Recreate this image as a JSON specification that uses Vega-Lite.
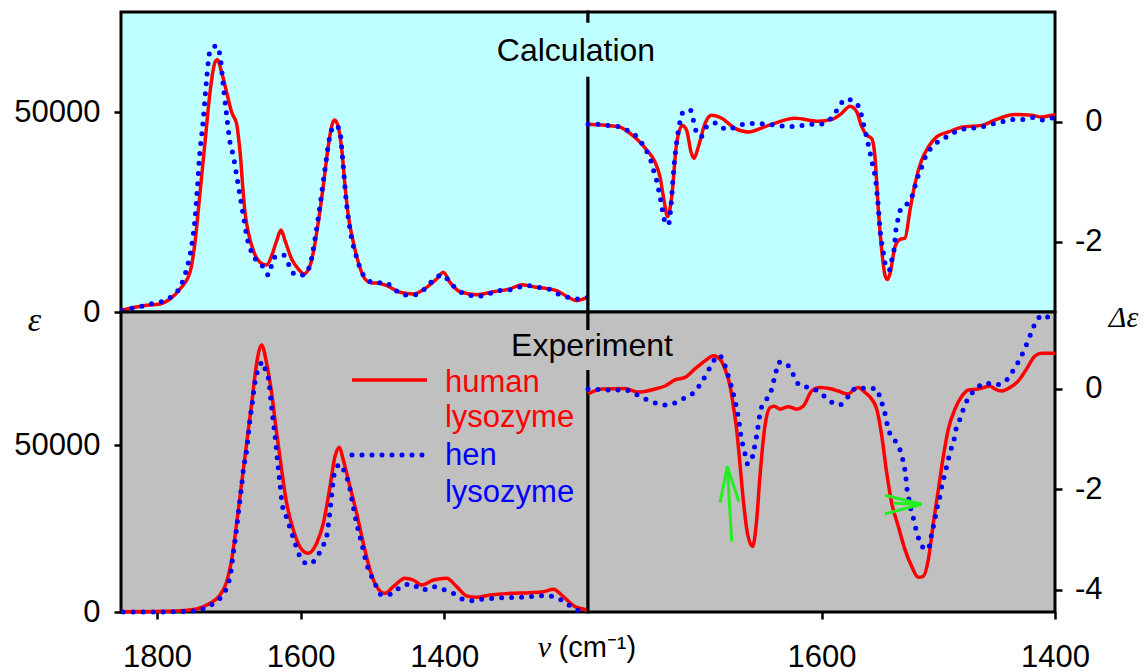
{
  "$schema": "https://vega.github.io/schema/vega-lite/v6.json",
  "width": 934,
  "height": 600,
  "autosize": {"type": "none"},
  "padding": {"left": 121, "top": 12, "right": 93, "bottom": 60},
  "background": "white",
  "config": {
    "view": {"stroke": null},
    "font": "Liberation Sans",
    "axis": {"labelFont": "Liberation Sans", "labelFontSize": 31, "labelColor": "#000", "tickColor": "#000", "tickWidth": 2.5, "tickSize": 7, "domain": false, "grid": false, "labelFlush": false, "labelOverlap": false, "labelBound": false, "titleColor": "#000", "titleFontWeight": "normal", "titlePadding": 0}
  },
  "datasets": {
    "tl_human": [
      {"nu": 1847.7, "v": 500}, {"nu": 1818.9, "v": 1580}, {"nu": 1795.7, "v": 2000}, {"nu": 1781.8, "v": 3250}, {"nu": 1767.9, "v": 5750}, {"nu": 1754.0, "v": 9920}, {"nu": 1747.0, "v": 17420}, {"nu": 1740.0, "v": 29920}, {"nu": 1733.1, "v": 42420}, {"nu": 1726.1, "v": 54920}, {"nu": 1719.2, "v": 62420}, {"nu": 1715.9, "v": 63080}, {"nu": 1709.9, "v": 59920}, {"nu": 1702.9, "v": 54920}, {"nu": 1696.0, "v": 49920}, {"nu": 1689.0, "v": 47000}, {"nu": 1686.7, "v": 44080}, {"nu": 1683.4, "v": 38250}, {"nu": 1680.7, "v": 31580}, {"nu": 1677.4, "v": 24920}, {"nu": 1672.8, "v": 19920}, {"nu": 1665.8, "v": 15330}, {"nu": 1656.5, "v": 12420}, {"nu": 1647.3, "v": 11750}, {"nu": 1640.3, "v": 14080}, {"nu": 1633.3, "v": 17830}, {"nu": 1627.3, "v": 20500}, {"nu": 1621.7, "v": 17830}, {"nu": 1612.5, "v": 13250}, {"nu": 1603.2, "v": 10750}, {"nu": 1595.3, "v": 9500}, {"nu": 1586.9, "v": 11580}, {"nu": 1581.4, "v": 15750}, {"nu": 1575.4, "v": 22420}, {"nu": 1568.4, "v": 31580}, {"nu": 1561.4, "v": 41580}, {"nu": 1555.9, "v": 47000}, {"nu": 1552.6, "v": 48000}, {"nu": 1547.5, "v": 46170}, {"nu": 1542.8, "v": 40750}, {"nu": 1538.2, "v": 31580}, {"nu": 1533.6, "v": 24080}, {"nu": 1526.6, "v": 17420}, {"nu": 1519.7, "v": 12420}, {"nu": 1510.4, "v": 8250}, {"nu": 1501.1, "v": 7250}, {"nu": 1494.1, "v": 7250}, {"nu": 1480.2, "v": 6580}, {"nu": 1461.7, "v": 4920}, {"nu": 1443.1, "v": 4500}, {"nu": 1424.6, "v": 6170}, {"nu": 1410.7, "v": 8250}, {"nu": 1401.4, "v": 9920}, {"nu": 1392.1, "v": 7420}, {"nu": 1378.2, "v": 5080}, {"nu": 1355.0, "v": 4330}, {"nu": 1331.8, "v": 5080}, {"nu": 1308.6, "v": 5750}, {"nu": 1292.4, "v": 6830}, {"nu": 1276.1, "v": 6330}, {"nu": 1243.6, "v": 5330}, {"nu": 1229.7, "v": 3920}, {"nu": 1215.8, "v": 2830}, {"nu": 1206.5, "v": 3250}, {"nu": 1200.0, "v": 3700}
    ],
    "tl_hen": [
      {"nu": 1848.0, "v": 300}, {"nu": 1835.2, "v": 917}, {"nu": 1821.2, "v": 1420}, {"nu": 1807.3, "v": 2080}, {"nu": 1793.4, "v": 2580}, {"nu": 1779.5, "v": 3920}, {"nu": 1767.9, "v": 6170}, {"nu": 1758.6, "v": 10750}, {"nu": 1751.6, "v": 16580}, {"nu": 1747.0, "v": 23250}, {"nu": 1743.8, "v": 30750}, {"nu": 1741.0, "v": 38250}, {"nu": 1735.4, "v": 48250}, {"nu": 1730.8, "v": 58250}, {"nu": 1726.1, "v": 65330}, {"nu": 1721.5, "v": 66170}, {"nu": 1716.9, "v": 66580}, {"nu": 1712.2, "v": 64080}, {"nu": 1707.6, "v": 56580}, {"nu": 1702.9, "v": 49080}, {"nu": 1698.3, "v": 42420}, {"nu": 1693.7, "v": 39080}, {"nu": 1689.0, "v": 34080}, {"nu": 1684.4, "v": 29080}, {"nu": 1679.7, "v": 24080}, {"nu": 1675.1, "v": 19080}, {"nu": 1665.8, "v": 14080}, {"nu": 1654.2, "v": 11750}, {"nu": 1644.9, "v": 9250}, {"nu": 1637.1, "v": 13580}, {"nu": 1624.1, "v": 14250}, {"nu": 1616.2, "v": 11750}, {"nu": 1607.4, "v": 9250}, {"nu": 1596.2, "v": 9250}, {"nu": 1586.9, "v": 11750}, {"nu": 1580.0, "v": 18250}, {"nu": 1573.0, "v": 26580}, {"nu": 1566.1, "v": 35750}, {"nu": 1559.1, "v": 44080}, {"nu": 1553.5, "v": 46580}, {"nu": 1546.1, "v": 45920}, {"nu": 1541.5, "v": 38250}, {"nu": 1536.8, "v": 28250}, {"nu": 1531.3, "v": 20750}, {"nu": 1522.0, "v": 13580}, {"nu": 1510.4, "v": 8670}, {"nu": 1496.5, "v": 7250}, {"nu": 1482.6, "v": 7420}, {"nu": 1468.6, "v": 5500}, {"nu": 1454.7, "v": 4250}, {"nu": 1441.7, "v": 4250}, {"nu": 1428.3, "v": 5580}, {"nu": 1416.2, "v": 7830}, {"nu": 1402.8, "v": 9250}, {"nu": 1392.1, "v": 7420}, {"nu": 1380.5, "v": 5330}, {"nu": 1366.6, "v": 4330}, {"nu": 1352.7, "v": 3920}, {"nu": 1338.8, "v": 4500}, {"nu": 1324.9, "v": 5330}, {"nu": 1311.0, "v": 5500}, {"nu": 1297.0, "v": 6170}, {"nu": 1283.1, "v": 6580}, {"nu": 1269.2, "v": 6170}, {"nu": 1255.3, "v": 5750}, {"nu": 1241.3, "v": 4500}, {"nu": 1227.4, "v": 3670}, {"nu": 1213.5, "v": 3250}, {"nu": 1199.5, "v": 3670}
    ],
    "tr_human": [
      {"nu": 1800.0, "v": -0.04}, {"nu": 1774.0, "v": -0.08}, {"nu": 1765.5, "v": -0.17}, {"nu": 1756.9, "v": -0.31}, {"nu": 1749.7, "v": -0.47}, {"nu": 1742.6, "v": -0.67}, {"nu": 1738.3, "v": -0.92}, {"nu": 1734.9, "v": -1.31}, {"nu": 1731.8, "v": -1.58}, {"nu": 1728.3, "v": -1.25}, {"nu": 1724.1, "v": -0.36}, {"nu": 1719.2, "v": -0.06}, {"nu": 1715.5, "v": -0.14}, {"nu": 1711.8, "v": -0.5}, {"nu": 1709.2, "v": -0.61}, {"nu": 1705.5, "v": -0.42}, {"nu": 1699.8, "v": -0.03}, {"nu": 1694.1, "v": 0.11}, {"nu": 1685.5, "v": 0.06}, {"nu": 1674.1, "v": -0.11}, {"nu": 1662.7, "v": -0.17}, {"nu": 1645.5, "v": -0.06}, {"nu": 1622.7, "v": 0.06}, {"nu": 1602.7, "v": 0.01}, {"nu": 1591.3, "v": 0.04}, {"nu": 1582.7, "v": 0.14}, {"nu": 1575.6, "v": 0.26}, {"nu": 1569.9, "v": 0.17}, {"nu": 1565.6, "v": -0.08}, {"nu": 1561.3, "v": -0.22}, {"nu": 1557.0, "v": -0.28}, {"nu": 1554.2, "v": -0.58}, {"nu": 1551.3, "v": -1.47}, {"nu": 1548.4, "v": -2.14}, {"nu": 1545.6, "v": -2.56}, {"nu": 1543.6, "v": -2.63}, {"nu": 1541.3, "v": -2.53}, {"nu": 1537.0, "v": -2.08}, {"nu": 1532.8, "v": -1.96}, {"nu": 1528.5, "v": -1.94}, {"nu": 1524.2, "v": -1.47}, {"nu": 1519.9, "v": -1.03}, {"nu": 1514.2, "v": -0.64}, {"nu": 1508.5, "v": -0.42}, {"nu": 1501.4, "v": -0.25}, {"nu": 1491.4, "v": -0.17}, {"nu": 1480.0, "v": -0.09}, {"nu": 1462.8, "v": -0.06}, {"nu": 1451.4, "v": 0.03}, {"nu": 1434.3, "v": 0.12}, {"nu": 1420.0, "v": 0.11}, {"nu": 1411.4, "v": 0.08}, {"nu": 1402.9, "v": 0.11}, {"nu": 1400.0, "v": 0.12}
    ],
    "tr_hen": [
      {"nu": 1800.0, "v": -0.04}, {"nu": 1791.7, "v": -0.04}, {"nu": 1783.2, "v": -0.06}, {"nu": 1774.0, "v": -0.08}, {"nu": 1765.5, "v": -0.15}, {"nu": 1756.3, "v": -0.29}, {"nu": 1750.6, "v": -0.46}, {"nu": 1746.3, "v": -0.64}, {"nu": 1743.8, "v": -0.81}, {"nu": 1741.2, "v": -0.98}, {"nu": 1739.2, "v": -1.16}, {"nu": 1737.5, "v": -1.33}, {"nu": 1736.0, "v": -1.5}, {"nu": 1734.0, "v": -1.67}, {"nu": 1731.2, "v": -1.72}, {"nu": 1728.9, "v": -1.39}, {"nu": 1727.5, "v": -1.03}, {"nu": 1726.1, "v": -0.69}, {"nu": 1724.1, "v": -0.35}, {"nu": 1721.2, "v": 0}, {"nu": 1717.8, "v": 0.18}, {"nu": 1712.1, "v": 0.19}, {"nu": 1709.8, "v": 0.03}, {"nu": 1707.5, "v": -0.15}, {"nu": 1703.2, "v": -0.25}, {"nu": 1698.4, "v": -0.08}, {"nu": 1690.4, "v": -0.02}, {"nu": 1681.2, "v": -0.13}, {"nu": 1672.7, "v": -0.08}, {"nu": 1663.5, "v": -0.03}, {"nu": 1654.7, "v": -0.03}, {"nu": 1646.1, "v": -0.04}, {"nu": 1637.0, "v": -0.06}, {"nu": 1627.8, "v": -0.08}, {"nu": 1619.3, "v": -0.07}, {"nu": 1610.4, "v": -0.04}, {"nu": 1601.3, "v": -0.04}, {"nu": 1592.7, "v": 0.04}, {"nu": 1586.2, "v": 0.21}, {"nu": 1579.3, "v": 0.38}, {"nu": 1570.7, "v": 0.32}, {"nu": 1566.2, "v": 0.14}, {"nu": 1564.2, "v": -0.03}, {"nu": 1561.9, "v": -0.21}, {"nu": 1559.9, "v": -0.38}, {"nu": 1557.9, "v": -0.56}, {"nu": 1556.2, "v": -0.72}, {"nu": 1554.2, "v": -0.9}, {"nu": 1553.0, "v": -1.07}, {"nu": 1552.2, "v": -1.25}, {"nu": 1551.3, "v": -1.42}, {"nu": 1550.7, "v": -1.59}, {"nu": 1549.9, "v": -1.78}, {"nu": 1549.0, "v": -1.94}, {"nu": 1547.6, "v": -2.11}, {"nu": 1546.2, "v": -2.28}, {"nu": 1544.8, "v": -2.44}, {"nu": 1541.9, "v": -2.47}, {"nu": 1539.9, "v": -2.31}, {"nu": 1537.9, "v": -2.13}, {"nu": 1537.0, "v": -1.96}, {"nu": 1536.2, "v": -1.79}, {"nu": 1534.2, "v": -1.61}, {"nu": 1531.9, "v": -1.44}, {"nu": 1524.2, "v": -1.32}, {"nu": 1520.8, "v": -1.14}, {"nu": 1518.5, "v": -0.97}, {"nu": 1515.1, "v": -0.81}, {"nu": 1512.2, "v": -0.64}, {"nu": 1507.1, "v": -0.46}, {"nu": 1499.1, "v": -0.32}, {"nu": 1490.5, "v": -0.23}, {"nu": 1481.4, "v": -0.13}, {"nu": 1472.8, "v": -0.11}, {"nu": 1463.7, "v": -0.09}, {"nu": 1454.8, "v": -0.04}, {"nu": 1445.7, "v": 0}, {"nu": 1437.1, "v": 0.04}, {"nu": 1428.0, "v": 0.04}, {"nu": 1419.1, "v": 0.07}, {"nu": 1410.6, "v": 0.03}, {"nu": 1401.4, "v": 0.07}
    ],
    "bl_human": [
      {"nu": 1850.0, "v": 100}, {"nu": 1772.5, "v": 300}, {"nu": 1744.7, "v": 900}, {"nu": 1726.1, "v": 2600}, {"nu": 1712.2, "v": 5100}, {"nu": 1702.9, "v": 9100}, {"nu": 1696.0, "v": 15600}, {"nu": 1689.0, "v": 26600}, {"nu": 1682.1, "v": 38600}, {"nu": 1675.1, "v": 50600}, {"nu": 1668.1, "v": 62600}, {"nu": 1661.2, "v": 74600}, {"nu": 1654.2, "v": 80100}, {"nu": 1647.3, "v": 74600}, {"nu": 1640.3, "v": 65600}, {"nu": 1633.3, "v": 53600}, {"nu": 1626.4, "v": 42600}, {"nu": 1619.4, "v": 32600}, {"nu": 1610.1, "v": 24600}, {"nu": 1598.6, "v": 18800}, {"nu": 1589.3, "v": 17600}, {"nu": 1577.7, "v": 20600}, {"nu": 1568.4, "v": 26600}, {"nu": 1559.1, "v": 37600}, {"nu": 1552.2, "v": 46600}, {"nu": 1546.1, "v": 49400}, {"nu": 1540.6, "v": 45600}, {"nu": 1531.3, "v": 37600}, {"nu": 1522.0, "v": 29600}, {"nu": 1512.7, "v": 20600}, {"nu": 1503.4, "v": 12600}, {"nu": 1494.2, "v": 7600}, {"nu": 1482.6, "v": 5600}, {"nu": 1471.0, "v": 7600}, {"nu": 1454.7, "v": 10100}, {"nu": 1443.1, "v": 9600}, {"nu": 1431.5, "v": 8100}, {"nu": 1415.3, "v": 9600}, {"nu": 1396.7, "v": 10100}, {"nu": 1382.8, "v": 7600}, {"nu": 1368.9, "v": 4800}, {"nu": 1355.0, "v": 4400}, {"nu": 1336.4, "v": 5100}, {"nu": 1308.6, "v": 5600}, {"nu": 1280.7, "v": 5800}, {"nu": 1262.2, "v": 6100}, {"nu": 1248.3, "v": 6800}, {"nu": 1234.4, "v": 4600}, {"nu": 1218.1, "v": 1600}, {"nu": 1206.5, "v": 900}, {"nu": 1200.0, "v": 300}
    ],
    "bl_hen": [
      {"nu": 1846.8, "v": 0}, {"nu": 1795.7, "v": 0}, {"nu": 1749.3, "v": 300}, {"nu": 1734.0, "v": 1100}, {"nu": 1720.1, "v": 2800}, {"nu": 1707.6, "v": 5400}, {"nu": 1700.6, "v": 8600}, {"nu": 1697.4, "v": 11600}, {"nu": 1693.7, "v": 17600}, {"nu": 1689.9, "v": 23600}, {"nu": 1686.7, "v": 29600}, {"nu": 1683.0, "v": 36100}, {"nu": 1679.7, "v": 42600}, {"nu": 1675.1, "v": 48600}, {"nu": 1670.5, "v": 57600}, {"nu": 1666.7, "v": 63600}, {"nu": 1662.6, "v": 70100}, {"nu": 1657.9, "v": 73100}, {"nu": 1653.3, "v": 75100}, {"nu": 1648.2, "v": 72100}, {"nu": 1644.0, "v": 69100}, {"nu": 1641.2, "v": 63100}, {"nu": 1638.0, "v": 57100}, {"nu": 1634.7, "v": 51100}, {"nu": 1631.8, "v": 44600}, {"nu": 1628.7, "v": 38400}, {"nu": 1625.5, "v": 32100}, {"nu": 1620.8, "v": 29100}, {"nu": 1616.2, "v": 26100}, {"nu": 1611.1, "v": 22800}, {"nu": 1606.4, "v": 19800}, {"nu": 1600.8, "v": 16600}, {"nu": 1589.3, "v": 14400}, {"nu": 1576.8, "v": 16600}, {"nu": 1569.8, "v": 19600}, {"nu": 1563.8, "v": 22600}, {"nu": 1560.0, "v": 28600}, {"nu": 1556.8, "v": 35100}, {"nu": 1553.5, "v": 41100}, {"nu": 1545.2, "v": 44300}, {"nu": 1538.2, "v": 41600}, {"nu": 1533.1, "v": 38600}, {"nu": 1527.6, "v": 32600}, {"nu": 1522.0, "v": 26600}, {"nu": 1515.0, "v": 20600}, {"nu": 1508.1, "v": 14400}, {"nu": 1502.1, "v": 11100}, {"nu": 1495.6, "v": 8100}, {"nu": 1487.2, "v": 5100}, {"nu": 1473.3, "v": 5400}, {"nu": 1459.4, "v": 7800}, {"nu": 1445.5, "v": 8400}, {"nu": 1430.6, "v": 6600}, {"nu": 1416.2, "v": 7600}, {"nu": 1402.3, "v": 6800}, {"nu": 1387.5, "v": 5600}, {"nu": 1373.5, "v": 3800}, {"nu": 1359.6, "v": 3400}, {"nu": 1345.7, "v": 3900}, {"nu": 1330.9, "v": 4100}, {"nu": 1316.5, "v": 4300}, {"nu": 1301.6, "v": 4400}, {"nu": 1287.7, "v": 4400}, {"nu": 1273.8, "v": 4800}, {"nu": 1259.9, "v": 4900}, {"nu": 1245.0, "v": 4400}, {"nu": 1231.1, "v": 2800}, {"nu": 1217.2, "v": 800}, {"nu": 1201.9, "v": 100}
    ],
    "br_human": [
      {"nu": 1800.0, "v": -0.11}, {"nu": 1788.3, "v": -0.01}, {"nu": 1768.3, "v": 0}, {"nu": 1756.9, "v": -0.07}, {"nu": 1742.6, "v": -0.01}, {"nu": 1734.0, "v": 0.05}, {"nu": 1725.5, "v": 0.17}, {"nu": 1716.9, "v": 0.22}, {"nu": 1708.4, "v": 0.39}, {"nu": 1699.8, "v": 0.55}, {"nu": 1692.6, "v": 0.65}, {"nu": 1686.9, "v": 0.58}, {"nu": 1682.7, "v": 0.39}, {"nu": 1678.3, "v": 0.05}, {"nu": 1675.5, "v": -0.35}, {"nu": 1672.7, "v": -0.81}, {"nu": 1670.7, "v": -1.28}, {"nu": 1668.4, "v": -1.87}, {"nu": 1666.1, "v": -2.41}, {"nu": 1663.5, "v": -2.87}, {"nu": 1659.0, "v": -3.14}, {"nu": 1655.5, "v": -2.6}, {"nu": 1652.7, "v": -1.74}, {"nu": 1648.4, "v": -0.74}, {"nu": 1644.1, "v": -0.38}, {"nu": 1640.4, "v": -0.35}, {"nu": 1635.5, "v": -0.41}, {"nu": 1628.4, "v": -0.36}, {"nu": 1621.3, "v": -0.41}, {"nu": 1615.6, "v": -0.35}, {"nu": 1608.4, "v": -0.05}, {"nu": 1601.3, "v": 0.02}, {"nu": 1591.3, "v": -0.01}, {"nu": 1585.6, "v": -0.05}, {"nu": 1577.0, "v": -0.11}, {"nu": 1572.7, "v": -0.03}, {"nu": 1568.4, "v": 0.02}, {"nu": 1562.7, "v": -0.08}, {"nu": 1557.0, "v": -0.21}, {"nu": 1552.7, "v": -0.41}, {"nu": 1548.4, "v": -0.94}, {"nu": 1544.2, "v": -1.67}, {"nu": 1539.9, "v": -2.27}, {"nu": 1534.2, "v": -2.74}, {"nu": 1528.5, "v": -3.2}, {"nu": 1522.8, "v": -3.53}, {"nu": 1517.1, "v": -3.75}, {"nu": 1512.8, "v": -3.73}, {"nu": 1508.5, "v": -3.4}, {"nu": 1504.2, "v": -2.67}, {"nu": 1499.9, "v": -2.01}, {"nu": 1495.6, "v": -1.34}, {"nu": 1491.4, "v": -0.81}, {"nu": 1485.7, "v": -0.41}, {"nu": 1480.0, "v": -0.16}, {"nu": 1474.2, "v": -0.03}, {"nu": 1465.7, "v": -0.01}, {"nu": 1455.7, "v": 0.05}, {"nu": 1451.4, "v": -0.01}, {"nu": 1445.7, "v": -0.05}, {"nu": 1438.5, "v": 0.02}, {"nu": 1431.4, "v": 0.15}, {"nu": 1424.3, "v": 0.39}, {"nu": 1417.1, "v": 0.65}, {"nu": 1411.4, "v": 0.7}, {"nu": 1400.0, "v": 0.7}
    ],
    "br_hen": [
      {"nu": 1800.0, "v": -0.01}, {"nu": 1795.4, "v": -0.01}, {"nu": 1786.0, "v": -0.03}, {"nu": 1776.9, "v": -0.03}, {"nu": 1768.3, "v": -0.03}, {"nu": 1760.3, "v": -0.1}, {"nu": 1751.7, "v": -0.2}, {"nu": 1743.2, "v": -0.28}, {"nu": 1734.6, "v": -0.33}, {"nu": 1726.1, "v": -0.29}, {"nu": 1717.5, "v": -0.19}, {"nu": 1708.9, "v": -0.07}, {"nu": 1702.6, "v": 0.13}, {"nu": 1697.5, "v": 0.33}, {"nu": 1693.2, "v": 0.52}, {"nu": 1687.8, "v": 0.66}, {"nu": 1683.2, "v": 0.49}, {"nu": 1680.4, "v": 0.29}, {"nu": 1677.8, "v": 0.09}, {"nu": 1675.5, "v": -0.11}, {"nu": 1673.5, "v": -0.31}, {"nu": 1671.8, "v": -0.5}, {"nu": 1670.4, "v": -0.71}, {"nu": 1669.2, "v": -0.91}, {"nu": 1667.5, "v": -1.11}, {"nu": 1665.5, "v": -1.3}, {"nu": 1663.2, "v": -1.5}, {"nu": 1659.8, "v": -1.41}, {"nu": 1657.8, "v": -1.21}, {"nu": 1656.1, "v": -1.01}, {"nu": 1654.7, "v": -0.81}, {"nu": 1652.1, "v": -0.43}, {"nu": 1647.5, "v": -0.23}, {"nu": 1643.5, "v": -0.08}, {"nu": 1641.3, "v": 0.12}, {"nu": 1639.0, "v": 0.33}, {"nu": 1637.0, "v": 0.52}, {"nu": 1632.7, "v": 0.52}, {"nu": 1628.4, "v": 0.45}, {"nu": 1623.6, "v": 0.25}, {"nu": 1618.4, "v": 0.05}, {"nu": 1609.9, "v": 0.02}, {"nu": 1601.3, "v": -0.08}, {"nu": 1592.7, "v": -0.25}, {"nu": 1584.7, "v": -0.33}, {"nu": 1577.0, "v": -0.16}, {"nu": 1569.9, "v": 0.02}, {"nu": 1561.3, "v": 0}, {"nu": 1552.7, "v": 0}, {"nu": 1549.9, "v": -0.18}, {"nu": 1547.0, "v": -0.38}, {"nu": 1544.8, "v": -0.58}, {"nu": 1543.3, "v": -0.76}, {"nu": 1539.9, "v": -0.96}, {"nu": 1534.2, "v": -1.13}, {"nu": 1531.3, "v": -1.33}, {"nu": 1529.3, "v": -1.53}, {"nu": 1527.9, "v": -1.73}, {"nu": 1527.1, "v": -1.93}, {"nu": 1525.6, "v": -2.13}, {"nu": 1524.2, "v": -2.33}, {"nu": 1521.9, "v": -2.52}, {"nu": 1519.9, "v": -2.72}, {"nu": 1517.6, "v": -2.92}, {"nu": 1514.2, "v": -3.12}, {"nu": 1510.8, "v": -3.19}, {"nu": 1508.5, "v": -3.19}, {"nu": 1506.5, "v": -2.99}, {"nu": 1504.8, "v": -2.8}, {"nu": 1502.8, "v": -2.6}, {"nu": 1501.4, "v": -2.41}, {"nu": 1499.1, "v": -2.21}, {"nu": 1497.6, "v": -2.01}, {"nu": 1495.6, "v": -1.81}, {"nu": 1493.4, "v": -1.61}, {"nu": 1491.4, "v": -1.41}, {"nu": 1489.1, "v": -1.21}, {"nu": 1486.5, "v": -1.02}, {"nu": 1484.8, "v": -0.81}, {"nu": 1481.4, "v": -0.61}, {"nu": 1478.5, "v": -0.41}, {"nu": 1474.8, "v": -0.21}, {"nu": 1468.5, "v": -0.03}, {"nu": 1459.4, "v": 0.11}, {"nu": 1451.4, "v": 0.07}, {"nu": 1442.8, "v": 0.14}, {"nu": 1436.3, "v": 0.34}, {"nu": 1431.4, "v": 0.53}, {"nu": 1427.1, "v": 0.73}, {"nu": 1423.4, "v": 0.93}, {"nu": 1420.0, "v": 1.13}, {"nu": 1416.2, "v": 1.33}, {"nu": 1409.7, "v": 1.46}, {"nu": 1401.4, "v": 1.27}
    ],
    "arrows": [
      {"a": 1676.9, "b": -3.04, "c": 1680.7, "d": -1.55},
      {"a": 1686.9, "b": -2.27, "c": 1680.7, "d": -1.55},
      {"a": 1670.7, "b": -2.25, "c": 1680.7, "d": -1.55},
      {"a": 1545.6, "b": -2.12, "c": 1514.2, "d": -2.3},
      {"a": 1545.6, "b": -2.49, "c": 1514.2, "d": -2.3},
      {"a": 1538.5, "b": -2.28, "c": 1514.2, "d": -2.3}
    ]
  },
  "layer": [
    {
      "encoding": {
        "x": {"type": "quantitative", "scale": {"type": "linear", "domain": [1200, 1850], "range": [467, 0], "nice": false, "zero": false}, "axis": null},
        "y": {"type": "quantitative", "scale": {"type": "linear", "domain": [0, 75000], "range": [300, 0], "nice": false, "zero": false}, "axis": {"orient": "left", "values": [0, 50000], "format": "d", "labelPadding": 14, "title": "ε", "titleFont": "Liberation Serif", "titleFontStyle": "italic", "titleFontSize": 34, "titleAngle": 0, "titleX": -87, "titleY": 318, "titleAlign": "center", "titleBaseline": "alphabetic"}}
      },
      "layer": [
        {"data": {"values": [{}]}, "mark": {"type": "rect", "fill": "#C0FFFF", "stroke": "#000", "strokeWidth": 3}, "encoding": {"x": {"datum": 1850}, "x2": {"datum": 1200}, "y": {"datum": 0}, "y2": {"datum": 75000}}},
        {"data": {"name": "tl_human"}, "mark": {"type": "line", "color": "#FF0000", "strokeWidth": 3.5, "interpolate": "monotone"}, "encoding": {"x": {"field": "nu"}, "y": {"field": "v"}}},
        {"data": {"name": "tl_hen"}, "mark": {"type": "line", "color": "#0000FF", "strokeWidth": 5, "strokeDash": [0, 10], "strokeCap": "round", "interpolate": "monotone"}, "encoding": {"x": {"field": "nu"}, "y": {"field": "v"}}}
      ]
    },
    {
      "encoding": {
        "x": {"type": "quantitative", "scale": {"type": "linear", "domain": [1400, 1800], "range": [934, 467], "nice": false, "zero": false}, "axis": null},
        "y": {"type": "quantitative", "scale": {"type": "linear", "domain": [-3.17, 1.83], "range": [300, 0], "nice": false, "zero": false}, "axis": {"orient": "right", "values": [0, -2], "labelExpr": "'' + datum.value", "labelAlign": "right", "labelPadding": 40, "title": "Δε", "titleFont": "Liberation Serif", "titleFontStyle": "italic", "titleFontSize": 30, "titleAngle": 0, "titleX": 68, "titleY": 314, "titleAlign": "center", "titleBaseline": "alphabetic"}}
      },
      "layer": [
        {"data": {"values": [{}]}, "mark": {"type": "rect", "fill": "#C0FFFF", "stroke": "#000", "strokeWidth": 3}, "encoding": {"x": {"datum": 1800}, "x2": {"datum": 1400}, "y": {"datum": -3.17}, "y2": {"datum": 1.83}}},
        {"data": {"values": [{}]}, "mark": {"type": "rect", "fill": "#C0FFFF"}, "encoding": {"x": {"datum": 1879}, "x2": {"datum": 1738}, "y": {"datum": 0.75}, "y2": {"datum": 1.65}}},
        {"data": {"values": [{}]}, "mark": {"type": "text", "text": "Calculation", "font": "Liberation Sans", "fontSize": 32, "align": "center", "baseline": "alphabetic", "color": "#000"}, "encoding": {"x": {"datum": 1810.3}, "y": {"datum": 1.013}}},
        {"data": {"name": "tr_human"}, "mark": {"type": "line", "color": "#FF0000", "strokeWidth": 3.5, "interpolate": "monotone"}, "encoding": {"x": {"field": "nu"}, "y": {"field": "v"}}},
        {"data": {"name": "tr_hen"}, "mark": {"type": "line", "color": "#0000FF", "strokeWidth": 5, "strokeDash": [0, 10], "strokeCap": "round", "interpolate": "monotone"}, "encoding": {"x": {"field": "nu"}, "y": {"field": "v"}}}
      ]
    },
    {
      "encoding": {
        "x": {"type": "quantitative", "scale": {"type": "linear", "domain": [1200, 1850], "range": [467, 0], "nice": false, "zero": false}, "axis": {"orient": "bottom", "values": [1800, 1600, 1400], "format": "d", "labelPadding": 23, "title": "ν", "titleFont": "Liberation Serif", "titleFontStyle": "italic", "titleFontSize": 30, "titleX": 423, "titleY": 44, "titleAlign": "center", "titleBaseline": "alphabetic"}},
        "y": {"type": "quantitative", "scale": {"type": "linear", "domain": [0, 90000], "range": [600, 300], "nice": false, "zero": false}, "axis": {"orient": "left", "values": [0, 50000], "format": "d", "labelPadding": 14, "title": null}}
      },
      "layer": [
        {"data": {"values": [{}]}, "mark": {"type": "rect", "fill": "#C0C0C0", "stroke": "#000", "strokeWidth": 3}, "encoding": {"x": {"datum": 1850}, "x2": {"datum": 1200}, "y": {"datum": 0}, "y2": {"datum": 90000}}},
        {"data": {"name": "bl_human"}, "mark": {"type": "line", "color": "#FF0000", "strokeWidth": 3.5, "interpolate": "monotone"}, "encoding": {"x": {"field": "nu"}, "y": {"field": "v"}}},
        {"data": {"name": "bl_hen"}, "mark": {"type": "line", "color": "#0000FF", "strokeWidth": 5, "strokeDash": [0, 10], "strokeCap": "round", "interpolate": "monotone"}, "encoding": {"x": {"field": "nu"}, "y": {"field": "v"}}},
        {"data": {"values": [{}]}, "mark": {"type": "rule", "color": "#FF0000", "strokeWidth": 3.5}, "encoding": {"x": {"datum": 1528.5}, "x2": {"datum": 1424.1}, "y": {"datum": 69600}}},
        {"data": {"values": [{}]}, "mark": {"type": "rule", "color": "#0000FF", "strokeWidth": 5, "strokeDash": [0, 10], "strokeCap": "round"}, "encoding": {"x": {"datum": 1528.5}, "x2": {"datum": 1424.1}, "y": {"datum": 47100}}},
        {"data": {"values": [{}]}, "mark": {"type": "text", "text": "human", "font": "Liberation Sans", "fontSize": 31, "align": "left", "baseline": "alphabetic", "color": "#FF0000"}, "encoding": {"x": {"datum": 1399.1}, "y": {"datum": 66090}}},
        {"data": {"values": [{}]}, "mark": {"type": "text", "text": "lysozyme", "font": "Liberation Sans", "fontSize": 31, "align": "left", "baseline": "alphabetic", "color": "#FF0000"}, "encoding": {"x": {"datum": 1399.1}, "y": {"datum": 55590}}},
        {"data": {"values": [{}]}, "mark": {"type": "text", "text": "hen", "font": "Liberation Sans", "fontSize": 31, "align": "left", "baseline": "alphabetic", "color": "#0000FF"}, "encoding": {"x": {"datum": 1399.1}, "y": {"datum": 44100}}},
        {"data": {"values": [{}]}, "mark": {"type": "text", "text": "lysozyme", "font": "Liberation Sans", "fontSize": 31, "align": "left", "baseline": "alphabetic", "color": "#0000FF"}, "encoding": {"x": {"datum": 1399.1}, "y": {"datum": 33090}}}
      ]
    },
    {
      "encoding": {
        "x": {"type": "quantitative", "scale": {"type": "linear", "domain": [1400, 1800], "range": [934, 467], "nice": false, "zero": false}, "axis": {"orient": "bottom", "values": [1600, 1400], "format": "d", "labelPadding": 23, "title": "(cm⁻¹)", "titleFont": "Liberation Sans", "titleFontSize": 29, "titleX": 437, "titleY": 44, "titleAlign": "left", "titleBaseline": "alphabetic"}},
        "y": {"type": "quantitative", "scale": {"type": "linear", "domain": [-4.44, 1.52], "range": [600, 300], "nice": false, "zero": false}, "axis": {"orient": "right", "values": [0, -2, -4], "labelExpr": "'' + datum.value", "labelAlign": "right", "labelPadding": 40, "title": null}}
      },
      "layer": [
        {"data": {"values": [{}]}, "mark": {"type": "rect", "fill": "#C0C0C0", "stroke": "#000", "strokeWidth": 3}, "encoding": {"x": {"datum": 1800}, "x2": {"datum": 1400}, "y": {"datum": -4.44}, "y2": {"datum": 1.52}}},
        {"data": {"values": [{}]}, "mark": {"type": "rect", "fill": "#C0C0C0"}, "encoding": {"x": {"datum": 1866}, "x2": {"datum": 1726}, "y": {"datum": 0.37}, "y2": {"datum": 1.16}}},
        {"data": {"values": [{}]}, "mark": {"type": "text", "text": "Experiment", "font": "Liberation Sans", "fontSize": 32, "align": "center", "baseline": "alphabetic", "color": "#000"}, "encoding": {"x": {"datum": 1796.6}, "y": {"datum": 0.636}}},
        {"data": {"name": "br_human"}, "mark": {"type": "line", "color": "#FF0000", "strokeWidth": 3.5, "interpolate": "monotone"}, "encoding": {"x": {"field": "nu"}, "y": {"field": "v"}}},
        {"data": {"name": "br_hen"}, "mark": {"type": "line", "color": "#0000FF", "strokeWidth": 5, "strokeDash": [0, 10], "strokeCap": "round", "interpolate": "monotone"}, "encoding": {"x": {"field": "nu"}, "y": {"field": "v"}}},
        {"data": {"name": "arrows"}, "mark": {"type": "rule", "color": "#22EE22", "strokeWidth": 3}, "encoding": {"x": {"field": "a"}, "y": {"field": "b"}, "x2": {"field": "c"}, "y2": {"field": "d"}}}
      ]
    }
  ],
  "resolve": {"scale": {"x": "independent", "y": "independent"}}
}
